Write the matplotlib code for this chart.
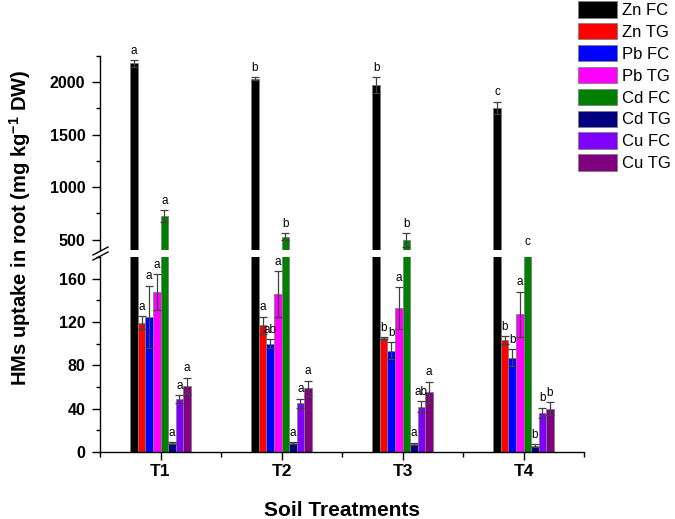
import numpy as np
import matplotlib
matplotlib.use("Agg")
import matplotlib.pyplot as plt
from matplotlib.ticker import MultipleLocator, FixedLocator
from matplotlib.lines import Line2D

plt.rcParams['font.family'] = ['Liberation Sans', 'DejaVu Sans']
plt.rcParams['mathtext.fontset'] = 'custom'
plt.rcParams['mathtext.bf'] = 'Liberation Sans:bold'
plt.rcParams['mathtext.rm'] = 'Liberation Sans'

# === data ===
treatments = ['T1', 'T2', 'T3', 'T4']
series = ['Zn FC', 'Zn TG', 'Pb FC', 'Pb TG', 'Cd FC', 'Cd TG', 'Cu FC', 'Cu TG']
colors = ['#000000', '#ff0000', '#0000ff', '#ff00ff', '#008000', '#000080', '#8000ff', '#800080']

zn_fc = [2180, 2035, 1973, 1757]
zn_fc_err = [32, 12, 74, 57]
zn_tg = [119.4, 117, 105, 103.6]
zn_tg_err = [6, 8, 1, 3.5]
pb_fc = [124.9, 100, 93.4, 87]
pb_fc_err = [28.6, 4, 7.7, 8]
pb_tg = [147.4, 146, 133, 127]
pb_tg_err = [16.6, 21, 19, 21]
cd_fc = [724, 527, 495, 385]
cd_fc_err = [56, 35, 64, 0]
cd_tg = [8, 8, 7.4, 6]
cd_tg_err = [1, 1, 1, 1]
cu_fc = [48.7, 45, 42, 36]
cu_fc_err = [3.5, 4, 5, 5]
cu_tg = [61, 59, 55, 40]
cu_tg_err = [7.7, 7, 10, 6]

letters = [
    ['a', 'b', 'b', 'c'],
    ['a', 'a', 'b', 'b'],
    ['a', 'ab', 'b', 'b'],
    ['a', 'a', 'a', 'a'],
    ['a', 'b', 'b', 'c'],
    ['a', 'a', 'a', 'b'],
    ['a', 'a', 'ab', 'b'],
    ['a', 'a', 'a', 'b'],
]

values = [zn_fc, zn_tg, pb_fc, pb_tg, cd_fc, cd_tg, cu_fc, cu_tg]
errors = [zn_fc_err, zn_tg_err, pb_fc_err, pb_tg_err, cd_fc_err, cd_tg_err, cu_fc_err, cu_tg_err]

# === layout (broken y axis) ===
W, H = 675, 519
fig = plt.figure(figsize=(W / 100, H / 100), dpi=100)
ax_lo = fig.add_axes([100 / W, (H - 452) / H, 484 / W, 195 / H])
ax_hi = fig.add_axes([100 / W, (H - 250) / H, 484 / W, 194 / H])

x = np.arange(1, 5)
bw = 0.0625
LO_MAX = 180
HI_MIN = 400

handles = []
for i, (vals, errs, col) in enumerate(zip(values, errors, colors)):
    pos = x + (i - 3.5) * bw
    for ax in (ax_lo, ax_hi):
        b = ax.bar(pos, vals, width=bw, color=col, edgecolor='#808080', linewidth=0.6, zorder=2)
    handles.append(b)
    for j in range(4):
        v, e = vals[j], errs[j]
        ax = ax_hi if v + e > LO_MAX else ax_lo
        if e > 0:
            ax.errorbar(pos[j], v, yerr=e, fmt='none', ecolor='#404040', elinewidth=0.9,
                        capsize=2.8, capthick=0.9, zorder=3)
        ax.annotate(letters[i][j], (pos[j], v + e), xytext=(0, 2.5), textcoords='offset points',
                    ha='center', va='bottom', fontsize=8.5, annotation_clip=False)

# lower axis
ax_lo.set_ylim(0, LO_MAX)
ax_lo.set_xlim(0.5, 4.5)
ax_lo.yaxis.set_major_locator(MultipleLocator(40))
ax_lo.yaxis.set_minor_locator(MultipleLocator(20))
ax_lo.set_xticks(x)
ax_lo.set_xticklabels(treatments, fontsize=12.5, fontweight='bold')
ax_lo.xaxis.set_minor_locator(FixedLocator([0.5, 1.5, 2.5, 3.5, 4.5]))
ax_lo.spines['top'].set_visible(False)
ax_lo.spines['right'].set_visible(False)

# upper axis
ax_hi.set_ylim(HI_MIN, 2250)
ax_hi.set_xlim(0.5, 4.5)
ax_hi.yaxis.set_major_locator(FixedLocator([500, 1000, 1500, 2000]))
ax_hi.yaxis.set_minor_locator(FixedLocator([750, 1250, 1750, 2250]))
ax_hi.set_xticks([])
ax_hi.tick_params(axis='x', which='both', bottom=False, labelbottom=False)
for s in ['top', 'right', 'bottom']:
    ax_hi.spines[s].set_visible(False)

for ax in (ax_lo, ax_hi):
    ax.set_facecolor('none')
    ax.spines['left'].set_linewidth(1.0)
    ax.spines['bottom'].set_linewidth(1.0)
    ax.tick_params(axis='y', which='major', length=5.5, width=1.0, pad=5, labelsize=11.5)
    ax.tick_params(axis='y', which='minor', length=3, width=1.0)
    for lab in ax.get_yticklabels():
        lab.set_fontweight('bold')
ax_lo.tick_params(axis='x', which='major', length=5.5, width=1.0, pad=3)
ax_lo.tick_params(axis='x', which='minor', length=3.5, width=1.0)

# break marks on the y axis
def px(xp, yp):
    return (xp / W, (H - yp) / H)

for dy in (0, 5):
    (x0, y0), (x1, y1) = px(93, 255 + dy), px(108, 247 + dy)
    fig.add_artist(Line2D([x0, x1], [y0, y1], transform=fig.transFigure, color='black', lw=1.0))

# labels
fig.text(342 / W, 3 / H, 'Soil Treatments', ha='center', va='baseline', fontsize=15, fontweight='bold')
fig.text(20 / W, (H - 228) / H, 'HMs uptake in root (mg kg$^{\\mathbf{-1}}$ DW)', rotation=90,
         ha='center', va='center', fontsize=14.5, fontweight='bold')

fig.legend(handles, series, loc='upper left', bbox_to_anchor=(578 / W, 1 - 1 / H),
           frameon=False, fontsize=12, borderpad=0, borderaxespad=0,
           handlelength=2.35, handleheight=1.15, labelspacing=0.3, handletextpad=0.3)

fig.savefig('out.png', dpi=100)
